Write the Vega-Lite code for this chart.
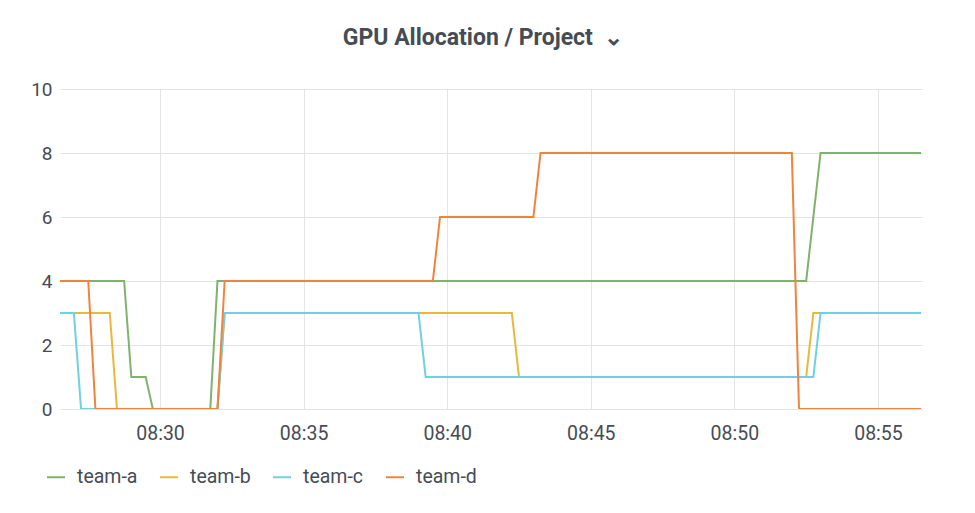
{
  "$schema": "https://vega.github.io/schema/vega-lite/v6.json",
  "width": 862,
  "height": 320,
  "autosize": {"type": "none"},
  "padding": {"left": 60, "top": 89, "right": 53, "bottom": 104},
  "background": "#ffffff",
  "title": {
    "text": "GPU Allocation / Project \u00a0⌄",
    "anchor": "middle",
    "font": "Roboto",
    "fontSize": 23,
    "fontWeight": "bold",
    "color": "#464c54",
    "offset": 30,
    "dx": -8
  },
  "data": {
    "values": [
      {"time": "2024-01-01T08:26:30", "team": "team-a", "gpus": 4},
      {"time": "2024-01-01T08:28:45", "team": "team-a", "gpus": 4},
      {"time": "2024-01-01T08:29:00", "team": "team-a", "gpus": 1},
      {"time": "2024-01-01T08:29:30", "team": "team-a", "gpus": 1},
      {"time": "2024-01-01T08:29:45", "team": "team-a", "gpus": 0},
      {"time": "2024-01-01T08:31:45", "team": "team-a", "gpus": 0},
      {"time": "2024-01-01T08:32:00", "team": "team-a", "gpus": 4},
      {"time": "2024-01-01T08:52:30", "team": "team-a", "gpus": 4},
      {"time": "2024-01-01T08:53:00", "team": "team-a", "gpus": 8},
      {"time": "2024-01-01T08:56:30", "team": "team-a", "gpus": 8},
      {"time": "2024-01-01T08:26:30", "team": "team-b", "gpus": 3},
      {"time": "2024-01-01T08:28:15", "team": "team-b", "gpus": 3},
      {"time": "2024-01-01T08:28:30", "team": "team-b", "gpus": 0},
      {"time": "2024-01-01T08:32:00", "team": "team-b", "gpus": 0},
      {"time": "2024-01-01T08:32:15", "team": "team-b", "gpus": 3},
      {"time": "2024-01-01T08:42:15", "team": "team-b", "gpus": 3},
      {"time": "2024-01-01T08:42:30", "team": "team-b", "gpus": 1},
      {"time": "2024-01-01T08:52:30", "team": "team-b", "gpus": 1},
      {"time": "2024-01-01T08:52:45", "team": "team-b", "gpus": 3},
      {"time": "2024-01-01T08:56:30", "team": "team-b", "gpus": 3},
      {"time": "2024-01-01T08:26:30", "team": "team-c", "gpus": 3},
      {"time": "2024-01-01T08:27:00", "team": "team-c", "gpus": 3},
      {"time": "2024-01-01T08:27:15", "team": "team-c", "gpus": 0},
      {"time": "2024-01-01T08:32:00", "team": "team-c", "gpus": 0},
      {"time": "2024-01-01T08:32:15", "team": "team-c", "gpus": 3},
      {"time": "2024-01-01T08:39:00", "team": "team-c", "gpus": 3},
      {"time": "2024-01-01T08:39:15", "team": "team-c", "gpus": 1},
      {"time": "2024-01-01T08:52:45", "team": "team-c", "gpus": 1},
      {"time": "2024-01-01T08:53:00", "team": "team-c", "gpus": 3},
      {"time": "2024-01-01T08:56:30", "team": "team-c", "gpus": 3},
      {"time": "2024-01-01T08:26:30", "team": "team-d", "gpus": 4},
      {"time": "2024-01-01T08:27:30", "team": "team-d", "gpus": 4},
      {"time": "2024-01-01T08:27:45", "team": "team-d", "gpus": 0},
      {"time": "2024-01-01T08:32:00", "team": "team-d", "gpus": 0},
      {"time": "2024-01-01T08:32:15", "team": "team-d", "gpus": 4},
      {"time": "2024-01-01T08:39:30", "team": "team-d", "gpus": 4},
      {"time": "2024-01-01T08:39:45", "team": "team-d", "gpus": 6},
      {"time": "2024-01-01T08:43:00", "team": "team-d", "gpus": 6},
      {"time": "2024-01-01T08:43:15", "team": "team-d", "gpus": 8},
      {"time": "2024-01-01T08:52:00", "team": "team-d", "gpus": 8},
      {"time": "2024-01-01T08:52:15", "team": "team-d", "gpus": 0},
      {"time": "2024-01-01T08:56:30", "team": "team-d", "gpus": 0}
    ]
  },
  "mark": {"type": "line", "strokeWidth": 2, "clip": true},
  "encoding": {
    "x": {
      "field": "time",
      "type": "temporal",
      "title": null,
      "scale": {
        "domain": [
          {"year": 2024, "month": 1, "date": 1, "hours": 8, "minutes": 26, "seconds": 31},
          {"year": 2024, "month": 1, "date": 1, "hours": 8, "minutes": 56, "seconds": 32}
        ],
        "nice": false
      },
      "axis": {
        "format": "%H:%M",
        "values": [
          {"year": 2024, "month": 1, "date": 1, "hours": 8, "minutes": 30},
          {"year": 2024, "month": 1, "date": 1, "hours": 8, "minutes": 35},
          {"year": 2024, "month": 1, "date": 1, "hours": 8, "minutes": 40},
          {"year": 2024, "month": 1, "date": 1, "hours": 8, "minutes": 45},
          {"year": 2024, "month": 1, "date": 1, "hours": 8, "minutes": 50},
          {"year": 2024, "month": 1, "date": 1, "hours": 8, "minutes": 55}
        ],
        "grid": true,
        "ticks": false,
        "domain": false,
        "labelPadding": 15,
        "labelFontSize": 19.5
      }
    },
    "y": {
      "field": "gpus",
      "type": "quantitative",
      "title": null,
      "scale": {"domain": [0, 10], "nice": false},
      "axis": {
        "values": [0, 2, 4, 6, 8, 10],
        "grid": true,
        "ticks": false,
        "domain": false,
        "labelPadding": 8
      }
    },
    "color": {
      "field": "team",
      "type": "nominal",
      "scale": {
        "domain": ["team-a", "team-b", "team-c", "team-d"],
        "range": ["#7EB26D", "#EAB839", "#6ED0E0", "#EF843C"]
      },
      "legend": {
        "title": null,
        "orient": "none",
        "legendX": -14,
        "legendY": 378,
        "direction": "horizontal",
        "columnPadding": 18,
        "symbolType": "stroke",
        "symbolSize": 324,
        "symbolStrokeWidth": 2,
        "labelOffset": 11,
        "labelFontSize": 19.5,
        "labelColor": "#464c54"
      }
    }
  },
  "config": {
    "font": "Roboto",
    "view": {"stroke": null},
    "axis": {
      "labelFontSize": 19,
      "labelColor": "#464c54",
      "gridColor": "#e4e4e4"
    }
  }
}
